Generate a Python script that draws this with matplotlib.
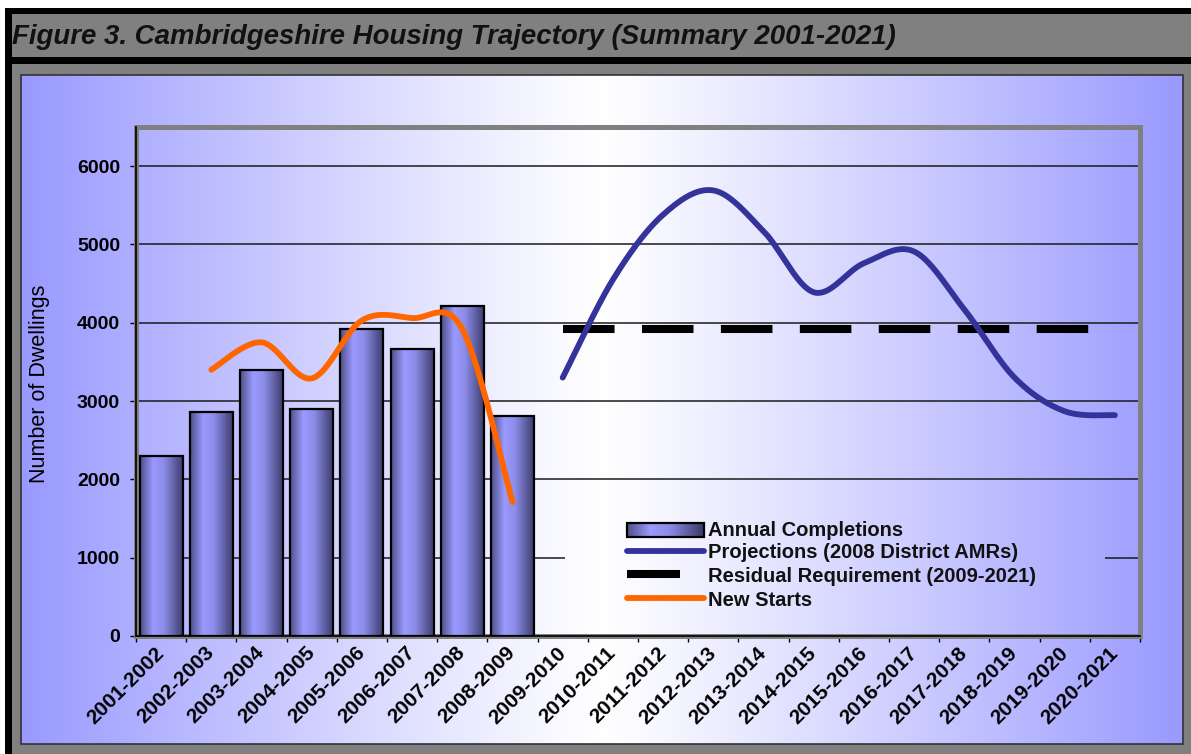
import matplotlib
matplotlib.use('Agg')
import numpy as np
import matplotlib.pyplot as plt
from matplotlib.patches import Rectangle
from matplotlib.colors import LinearSegmentedColormap, to_rgb
from matplotlib.transforms import ScaledTranslation

# ---------------- data ----------------
categories = ['2001-2002', '2002-2003', '2003-2004', '2004-2005', '2005-2006',
              '2006-2007', '2007-2008', '2008-2009', '2009-2010', '2010-2011',
              '2011-2012', '2012-2013', '2013-2014', '2014-2015', '2015-2016',
              '2016-2017', '2017-2018', '2018-2019', '2019-2020', '2020-2021']
completions = [2300, 2860, 3400, 2900, 3920, 3660, 4210, 2810]          # 2001-02 .. 2008-09
new_starts = [3400, 3750, 3290, 4030, 4060, 3920, 1710]                 # 2002-03 .. 2008-09
projections = [3300, 4550, 5380, 5690, 5170, 4390, 4760, 4910, 4170,
               3300, 2870, 2820]                                         # 2009-10 .. 2020-21
residual = [3925, 3925, 3925, 3925, 3925, 3925, 3925, 3925, 3925, 3925,
            3925, 3925]                                                  # 2009-10 .. 2020-21
yticks = [0, 1000, 2000, 3000, 4000, 5000, 6000]

title = 'Figure 3. Cambridgeshire Housing Trajectory (Summary 2001-2021)'
ylabel = 'Number of Dwellings'
legend_labels = ['Annual Completions', 'Projections (2008 District AMRs)',
                 'Residual Requirement (2009-2021)', 'New Starts']

FONT = ['Liberation Sans', 'DejaVu Sans']
plt.rcParams['font.family'] = FONT

W, H = 1191, 754
fig = plt.figure(figsize=(W / 100, H / 100), dpi=100)
fig.patch.set_facecolor('white')


def fx(x):
    return x / W


def fy(y):
    return 1 - y / H


def frect(x0, y0, x1, y1, zorder=-1, **kw):
    r = Rectangle((fx(x0), fy(y1)), (x1 - x0) / W, (y1 - y0) / H,
                  transform=fig.transFigure, zorder=zorder, **kw)
    fig.patches.append(r)
    return r


# frame
frect(6, 8, 1191, 754, facecolor='#808080', edgecolor='none', zorder=-3)
frect(6, 8, 1191, 14, facecolor='black', edgecolor='none', zorder=-2)
frect(6, 57, 1191, 64, facecolor='black', edgecolor='none', zorder=-2)
frect(5, 8, 12, 754, facecolor='black', edgecolor='none', zorder=-2)
fig.text(fx(12), fy(37), title, fontsize=19.9, fontweight='bold', fontstyle='italic',
         va='center', ha='left', color='#111111')

BLUE = np.array(to_rgb('#9999FF'))
CX, HW = 602.0, 581.0


def grad_rgb(xs):
    t = np.clip(np.abs(xs - CX) / HW, 0, 1) ** 1.1
    return 1 - t[:, None] * (1 - BLUE)


# inner gradient panel
X0, X1, Y0, Y1 = 21, 1183, 75, 744
axbg = fig.add_axes([fx(X0), fy(Y1), (X1 - X0) / W, (Y1 - Y0) / H], zorder=0)
xs = np.arange(X0, X1) + 0.5
axbg.imshow(grad_rgb(xs)[None, :, :], aspect='auto', extent=(X0, X1, Y1, Y0))
axbg.set_axis_off()
axbg.add_patch(Rectangle((X0, Y0), X1 - X0, Y1 - Y0, fill=False, edgecolor='#333333',
                         lw=1.2, clip_on=False))

# main axes
PX0, PX1, PY0, PY1 = 136, 1140, 127, 636
ax = fig.add_axes([fx(PX0), fy(PY1), (PX1 - PX0) / W, (PY1 - PY0) / H], zorder=2)
ax.patch.set_alpha(0)

n = len(categories)
centers = np.arange(n) + 0.5

bar_cmap = LinearSegmentedColormap.from_list(
    'bar', [(0.0, '#50508A'), (0.3, '#9A9AFF'), (0.55, '#8C8CE8'), (1.0, '#3A3A6A')])
grad_bar = bar_cmap(np.linspace(0, 1, 64))[None, :, :3]

bars = ax.bar(centers[:len(completions)], completions, width=0.86,
              facecolor='none', edgecolor='black', linewidth=1.6, zorder=4)
for b in bars:
    ax.imshow(grad_bar, aspect='auto', zorder=3,
              extent=(b.get_x(), b.get_x() + b.get_width(), 0, b.get_height()))


def smooth(xv, yv, m=40):
    pts = np.column_stack([xv, yv]).astype(float)
    P = np.vstack([pts[0], pts, pts[-1]])
    out = []
    t = np.linspace(0, 1, m)[:, None]
    for i in range(1, len(P) - 2):
        p0, p1, p2, p3 = P[i - 1], P[i], P[i + 1], P[i + 2]
        c1 = p1 + (p2 - p0) / 6
        c2 = p2 - (p3 - p1) / 6
        seg = (1 - t) ** 3 * p1 + 3 * (1 - t) ** 2 * t * c1 + 3 * (1 - t) * t ** 2 * c2 + t ** 3 * p2
        out.append(seg if i == 1 else seg[1:])
    return np.vstack(out)


res_x = centers[8:8 + len(residual)]
ax.plot(res_x, residual, color='black', lw=5.8, solid_capstyle='butt',
        dash_capstyle='butt', dashes=(6.4, 3.4), zorder=5)

proj_x = centers[8:8 + len(projections)]
sp = smooth(proj_x, projections)
ax.plot(sp[:, 0], sp[:, 1], color='#333399', lw=4.2, solid_capstyle='round', zorder=6)

ns_x = centers[1:1 + len(new_starts)]
sn = smooth(ns_x, new_starts)
ax.plot(sn[:, 0], sn[:, 1], color='#FF6600', lw=4.2, solid_capstyle='round', zorder=6)

ax.set_xlim(0, n)
ax.set_ylim(0, 6500)
ax.set_yticks(yticks)
ax.set_yticklabels([str(v) for v in yticks], fontsize=14, fontweight='bold')
ax.yaxis.grid(True, color='#1a1a1a', lw=1.1, zorder=1)
ax.set_axisbelow(True)

ax.set_xticks(np.arange(n + 1))
ax.set_xticklabels([])
ax.set_xticks(centers, minor=True)
ax.set_xticklabels(categories, minor=True, rotation=45, ha='right', va='center',
                   rotation_mode='anchor', fontsize=15, fontweight='bold')
off = ScaledTranslation(-6 / 100, 0, fig.dpi_scale_trans)
for lab in ax.get_xticklabels(minor=True):
    lab.set_transform(lab.get_transform() + off)
ax.tick_params(axis='x', which='major', direction='out', length=4.5, width=1, color='black')
ax.tick_params(axis='x', which='minor', length=0, pad=10)
ax.tick_params(axis='y', direction='out', length=4.5, width=1, color='black', pad=7)

for s in ['top', 'right']:
    ax.spines[s].set_visible(False)
for s in ['left', 'bottom']:
    ax.spines[s].set_color('black')
    ax.spines[s].set_linewidth(1.2)
    ax.spines[s].set_zorder(7)
ax.add_patch(Rectangle((0, 0), 1, 1, transform=ax.transAxes, fill=False,
                       edgecolor='#808080', lw=3.6, clip_on=False, zorder=2))

ax.set_ylabel(ylabel, fontsize=15.5)
ax.yaxis.set_label_coords((50 - PX0) / (PX1 - PX0), 0.495)

# legend box (gradient fill hides gridlines)
LX0, LX1, LY0, LY1 = 565, 1105, 505, 616
lax = fig.add_axes([fx(LX0), fy(LY1), (LX1 - LX0) / W, (LY1 - LY0) / H], zorder=3)
lxs = np.arange(LX0, LX1) + 0.5
lax.imshow(grad_rgb(lxs)[None, :, :], aspect='auto', extent=(LX0, LX1, LY1, LY0))
lax.set_xlim(LX0, LX1)
lax.set_ylim(LY1, LY0)
lax.set_axis_off()

lax.imshow(grad_bar, aspect='auto', extent=(627, 704, 537, 523), zorder=2)
lax.add_patch(Rectangle((627, 523), 77, 14, fill=False, edgecolor='black', lw=1.6, zorder=3))
lax.plot([627, 704], [551, 551], color='#333399', lw=4.2, solid_capstyle='round')
lax.plot([627, 680], [574, 574], color='black', lw=5.8, solid_capstyle='butt')
lax.plot([627, 704], [598, 598], color='#FF6600', lw=4.2, solid_capstyle='round')
for yy, lab in zip([530, 553, 577, 600], legend_labels):
    lax.text(708, yy, lab, fontsize=14.5, fontweight='bold', va='center', ha='left',
             color='#111111')

fig.savefig('out.png', dpi=100, facecolor=fig.get_facecolor())
